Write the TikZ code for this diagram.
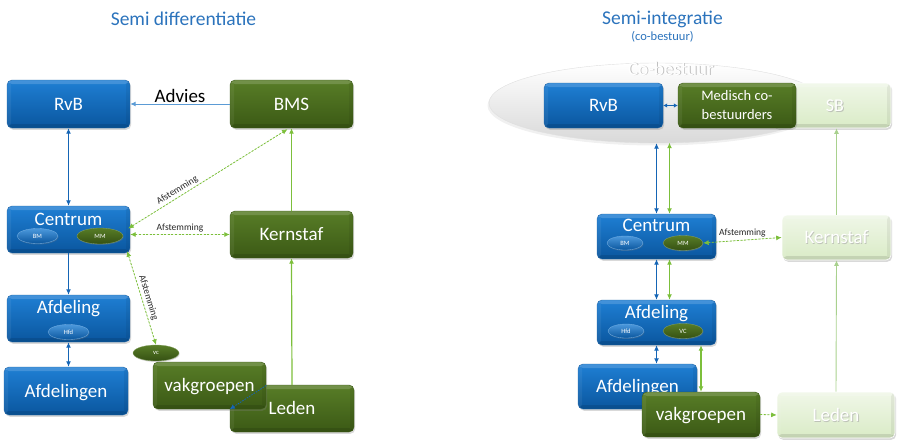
\documentclass[tikz,border=0pt]{standalone}
\usepackage{fontspec}
\setmainfont{Carlito}
\usetikzlibrary{arrows.meta,shapes.geometric,shadows,calc}
\definecolor{bTop}{HTML}{1F7FD4}
\definecolor{bBot}{HTML}{0A569E}
\definecolor{gTop}{HTML}{587D27}
\definecolor{gBot}{HTML}{3B5915}
\definecolor{pTop}{HTML}{F0F7E8}
\definecolor{pBot}{HTML}{D9EBC6}
\definecolor{titleblue}{HTML}{2B73BC}
\definecolor{lineblue}{HTML}{1565B5}
\definecolor{lightblue}{HTML}{5B9BD5}
\definecolor{linegreen}{HTML}{7CBF3B}
\definecolor{palegreen}{HTML}{A9D18E}
\tikzset{
  bevel/.style={path picture={
    \fill[white, opacity=0.16] (path picture bounding box.north west) rectangle ($(path picture bounding box.north east)+(0,-4pt)$);
    \fill[black, opacity=0.10] (path picture bounding box.south west) rectangle ($(path picture bounding box.south east)+(0,4pt)$);
    \fill[black, opacity=0.06] (path picture bounding box.south east) rectangle ($(path picture bounding box.north east)+(-4pt,0)$);
    \fill[white, opacity=0.06] (path picture bounding box.south west) rectangle ($(path picture bounding box.north west)+(4pt,0)$);
  }},
  box/.style={rectangle, rounded corners=5pt, inner sep=0pt, text=white,
    font=\fontsize{19}{22}\selectfont, text height=14pt, text depth=1.5pt, bevel,
    drop shadow={shadow xshift=1.2pt, shadow yshift=-1.8pt, opacity=0.3}},
  bluebox/.style={box, top color=bTop, bottom color=bBot, draw=bBot!90!white, line width=0.4pt},
  greenbox/.style={box, top color=gTop, bottom color=gBot, draw=gBot, line width=0.4pt},
  palebox/.style={box, top color=pTop, bottom color=pBot, draw=white, line width=0.6pt},
  boxtext/.style={anchor=base, inner sep=0pt, text=white, font=\fontsize{19}{22}\selectfont},
  paletext/.style={inner sep=0pt, text=white, font=\fontsize{19}{22}\selectfont, text height=14pt, text depth=1.5pt},
  paleshadow/.style={paletext, text=gray!70, opacity=0.6},
  ell/.style={ellipse, inner sep=0pt, text=white, font=\fontsize{6.5}{7}\selectfont,
    drop shadow={shadow xshift=0.6pt, shadow yshift=-1pt, opacity=0.3}},
  blueell/.style={ell, top color=bTop!80!white, bottom color=bBot, draw=bTop!60!white, line width=0.3pt},
  greenell/.style={ell, top color=gTop, bottom color=gBot!90!black, draw=gTop!70!white, line width=0.3pt},
  titlef/.style={anchor=base, inner sep=0pt, text=titleblue, font=\fontsize{19.5}{22}\selectfont},
  smalllab/.style={inner sep=1pt, font=\fontsize{9.5}{11}\selectfont, text=black!85},
  tip/.tip={Latex[length=5.5pt,width=5pt]},
  conn/.style={line width=1.2pt, -tip},
  bicon/.style={line width=1.2pt, tip-tip},
  dgreen/.style={draw=linegreen, line width=0.8pt, dash pattern=on 2pt off 1.6pt, tip-tip},
}
\begin{document}
\begin{tikzpicture}[x=1pt,y=-1pt]
\useasboundingbox (0,0) rectangle (900,447);

% ---------- titles ----------
\node[titlef] (t1) at (183.5,25) {Semi differentiatie};
\node[titlef] (t2) at (662.5,24) {Semi-integratie};
\node[anchor=base, inner sep=0pt, text=titleblue, font=\fontsize{12.5}{14}\selectfont] (t3) at (662.5,40.5) {(co-bestuur)};

% ================= LEFT =================
\node[bluebox, minimum width=123pt, minimum height=48pt] (rvbL) at (68.5,104) {RvB};
\node[greenbox, minimum width=123pt, minimum height=48pt] (bms) at (291.5,104) {BMS};

\node[bluebox, minimum width=123pt, minimum height=47pt] (cenL) at (68.5,229.5) {};
\node[boxtext] (cenLt) at (68.5,225) {Centrum};
\node[blueell, minimum width=41pt, minimum height=15pt] (bmL) at (37.5,236) {BM};
\node[greenell, minimum width=46pt, minimum height=16pt] (mmL) at (100,236) {MM};

\node[greenbox, minimum width=123pt, minimum height=47pt] (kernL) at (291.5,234.5) {Kernstaf};

\node[bluebox, minimum width=123pt, minimum height=47pt] (afdL) at (68.5,318.5) {};
\node[boxtext] (afdLt) at (68.5,313) {Afdeling};
\node[blueell, minimum width=41pt, minimum height=15pt] (hfdL) at (68.5,332) {Hfd};

\node[bluebox, minimum width=124pt, minimum height=48pt] (afdnL) at (66,391) {Afdelingen};

\node[greenell, minimum width=46pt, minimum height=16pt] (vcL) at (156,353) {vc};
\node[greenbox, minimum width=124pt, minimum height=47pt] (ledL) at (292,408.5) {Leden};
\node[greenbox, minimum width=113pt, minimum height=47pt] (vakL) at (209.5,385.5) {vakgroepen};

% left connectors
\draw[conn, draw=lightblue, fill=lightblue, line width=1pt] (bms.west) -- (rvbL.east)
  node[midway, above=1pt, inner sep=0pt, font=\fontsize{19}{22}\selectfont, text=black] (advies) {Advies};
\draw[bicon, lineblue] (rvbL.south) -- (cenL.north);
\draw[conn, lineblue] (cenL.south) -- (afdL.north);
\draw[bicon, lineblue] (afdL.south) -- (afdL.south |- afdnL.north);
\draw[conn, linegreen] (kernL.north) -- (bms.south);
\draw[conn, linegreen] (ledL.north) -- (kernL.south);

\draw[dgreen, fill=linegreen] ($(cenL.east)+(-2,-1)$) -- ($(bms.south)+(-4,1)$)
  node[pos=0.33, sloped, above=1pt, smalllab] (af1) {Afstemming};
\draw[dgreen, fill=linegreen] ($(cenL.east)+(0,5)$) -- (kernL.west)
  node[midway, above=1pt, smalllab] (af2) {Afstemming};
\draw[dgreen, fill=linegreen] ($(cenL.south east)+(-3,-2)$) -- (vcL.north)
  node[pos=0.52, sloped, above=1pt, smalllab] (af3) {Afstemming};

\draw[lineblue, line width=0.8pt, dash pattern=on 1.5pt off 1.2pt, -{Latex[length=5pt,width=5pt]}]
  (vakL.east) -- (ledL.west |- vakL.south);

% ================= RIGHT =================
\node[ellipse, minimum width=336pt, minimum height=80pt, inner sep=0pt,
  top color=white, middle color=white, bottom color=gray!30, draw=gray!25,
  drop shadow={shadow xshift=-1.5pt, shadow yshift=-2.5pt, opacity=0.12}] (cob) at (657,103) {};
\node[anchor=base, inner sep=0pt, text=gray!50, font=\fontsize{19}{22}\selectfont] (cobs) at (671.9,75.9) {Co-bestuur};
\node[anchor=base, inner sep=0pt, text=white, font=\fontsize{19}{22}\selectfont] (cobt) at (671,75) {Co-bestuur};

\node[bluebox, minimum width=119pt, minimum height=45pt] (rvbR) at (603.5,105.5) {RvB};
\node[palebox, minimum width=118pt, minimum height=45pt] (sb) at (832,105.5) {};
\node[paleshadow, font=\fontsize{18}{20}\selectfont] (sbs) at (835.8,106.3) {SB};
\node[paletext, font=\fontsize{18}{20}\selectfont] (sbt) at (835,105.5) {SB};
\node[greenbox, minimum width=118pt, minimum height=45pt, align=center,
  font=\fontsize{14.5}{19}\selectfont, text height=, text depth=] (med) at (737,105.5) {Medisch co-\\bestuurders};

\node[bluebox, minimum width=119pt, minimum height=45pt] (cenR) at (656.5,236.5) {};
\node[boxtext] (cenRt) at (656.5,231.5) {Centrum};
\node[blueell, minimum width=36pt, minimum height=14pt] (bmR) at (625,243) {BM};
\node[greenell, minimum width=40pt, minimum height=15pt] (mmR) at (683,243) {MM};

\node[palebox, minimum width=109pt, minimum height=45pt] (kernR) at (836.5,237.5) {};
\node[paleshadow] (kernRs) at (837.3,238.3) {Kernstaf};
\node[paletext] (kernRt) at (836.5,237.5) {Kernstaf};

\node[bluebox, minimum width=119pt, minimum height=45pt] (afdR) at (656.5,322.5) {};
\node[boxtext] (afdRt) at (656.5,318) {Afdeling};
\node[blueell, minimum width=36pt, minimum height=14pt] (hfdR) at (626,331) {Hfd};
\node[greenell, minimum width=40pt, minimum height=15pt] (vcR) at (683,331) {VC};

\node[bluebox, minimum width=119pt, minimum height=45pt] (afdnR) at (637.5,386.5) {Afdelingen};
\node[greenbox, minimum width=118pt, minimum height=45pt] (vakR) at (701,414.5) {vakgroepen};

\node[palebox, minimum width=118pt, minimum height=46pt] (ledR) at (836,415) {};
\node[paleshadow] (ledRs) at (836.8,415.8) {Leden};
\node[paletext] (ledRt) at (836,415) {Leden};

% right connectors
\draw[lineblue, line width=1pt, {Latex[length=4pt,width=4.5pt]}-{Latex[length=4pt,width=4.5pt]}] (rvbR.east) -- (med.west);
\draw[bicon, lineblue] (cenR.north |- cob.south) -- (cenR.north);
\draw[bicon, linegreen] ($(cenR.north |- cob.south)+(13,-0.5)$) -- ($(cenR.north)+(13,0)$);
\draw[bicon, lineblue] (cenR.south) -- (afdR.north);
\draw[bicon, linegreen] ($(cenR.south)+(13,0)$) -- ($(afdR.north)+(13,0)$);
\draw[bicon, lineblue] (afdR.south) -- (afdR.south |- afdnR.north);
\draw[bicon, linegreen] (vakR.north |- afdR.south) -- (vakR.north);

\draw[dgreen, fill=linegreen] (mmR.east) -- (kernR.west)
  node[midway, above=2pt, smalllab] (af4) {Afstemming};
\draw[dgreen, fill=linegreen, -tip] (vakR.east) -- (ledR.west);

\draw[conn, palegreen, line width=0.9pt] (ledR.north) -- (kernR.south);
\draw[conn, palegreen, line width=0.9pt] (kernR.north) -- (kernR.north |- sb.south);
\end{tikzpicture}
\end{document}
